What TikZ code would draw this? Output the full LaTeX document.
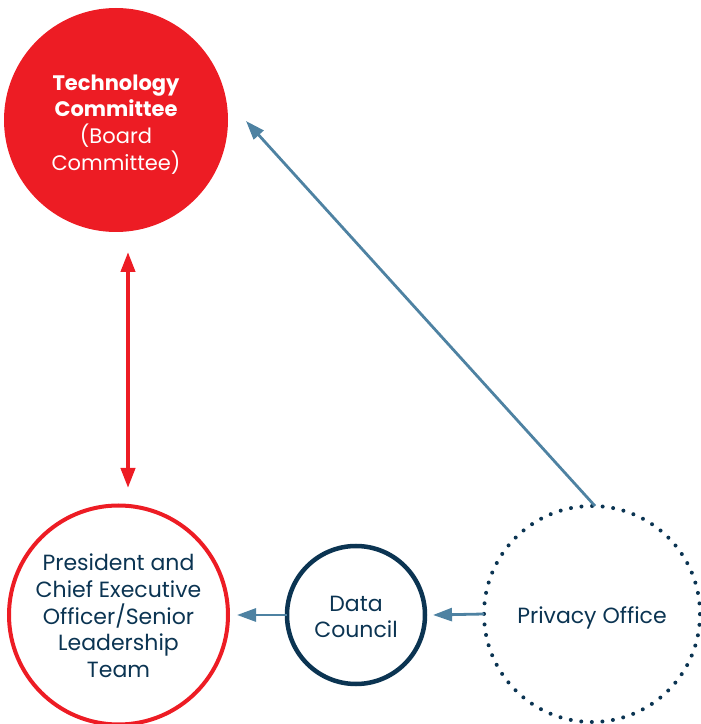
\documentclass[tikz,border=0pt]{standalone}
\usepackage{fontspec}
\setmainfont{Poppins}
\usetikzlibrary{arrows.meta}
\definecolor{brandred}{HTML}{ED1C24}
\definecolor{navy}{HTML}{0B3452}
\definecolor{steel}{HTML}{4E82A2}
\begin{document}
\begin{tikzpicture}[x=1pt,y=1pt,
  bubble/.style={circle, inner sep=0pt, outer sep=0pt},
  words/.style={align=center, inner sep=0pt, text=navy,
    font=\fontsize{22}{26.7}\selectfont},
  flow/.style={draw=steel, line width=2.8pt, -{Triangle[length=19pt,width=13pt]}},
  link/.style={draw=brandred, line width=4pt,
    {Triangle[length=20pt,width=14pt]}-{Triangle[length=20pt,width=14pt]}}]
\useasboundingbox (0,0) rectangle (701,724);

% governance bodies
\node[bubble, fill=brandred, minimum size=224pt] (tech) at (116,604) {};
\node[bubble, draw=brandred, line width=4pt, minimum size=219pt] (pres) at (118.5,109) {};
\node[bubble, draw=navy, line width=4.5pt, minimum size=138pt] (data) at (356,109) {};
\node[bubble, draw=navy, line width=4pt, line cap=round,
  dash pattern=on 0pt off 10.6pt, minimum size=216pt] (priv) at (592,110) {};

% their names
\node[words, text=white, font=\fontsize{21}{26.7}\selectfont, yshift=-4.5pt] (techname) at (tech)
  {\textbf{Technology}\\\textbf{Committee}\\(Board\\Committee)};
\node[words, yshift=-1pt] (presname) at (pres)
  {President and\\Chief Executive\\Officer/Senior\\Leadership\\Team};
\node[words, yshift=-2pt] (dataname) at (data) {Data\\Council};
\node[words, yshift=-4pt] (privname) at (priv) {Privacy Office};

% reporting lines
\draw[flow] (data.west) -- ([xshift=9pt]pres.east);
\draw[flow] (priv.west) -- ([xshift=8pt]data.east);
\draw[flow] ([xshift=3pt]priv.north) -- ([xshift=18pt,yshift=-1pt]tech.east);
\draw[link] ([xshift=12pt,yshift=-20pt]tech.south) -- ([xshift=9.5pt,yshift=17.5pt]pres.north);
\end{tikzpicture}
\end{document}
